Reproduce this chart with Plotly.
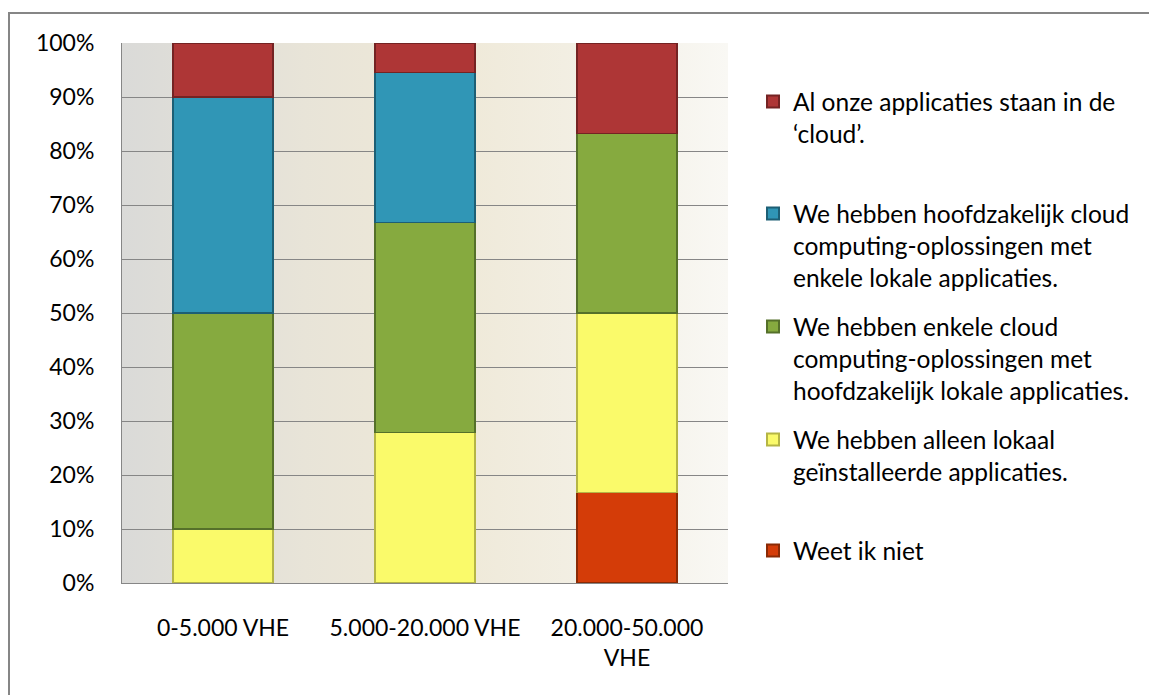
import base64
import plotly.graph_objects as go

# ---- data ----
categories = ["0-5.000 VHE", "5.000-20.000 VHE", "20.000-50.000<br>VHE"]
weet_ik_niet = [0, 0, 16.7]
alleen_lokaal = [10, 27.8, 33.3]
enkele_cloud = [40, 38.9, 33.3]
hoofdzakelijk_cloud = [40, 27.8, 0]
alles_cloud = [10, 5.5, 16.7]

series_names = [
    "Weet ik niet",
    "We hebben alleen lokaal<br>geïnstalleerde applicaties.",
    "We hebben enkele cloud<br>computing-oplossingen met<br>hoofdzakelijk lokale applicaties.",
    "We hebben hoofdzakelijk cloud<br>computing-oplossingen met<br>enkele lokale applicaties.",
    "Al onze applicaties staan in de<br>‘cloud’.",
]
series_values = [weet_ik_niet, alleen_lokaal, enkele_cloud, hoofdzakelijk_cloud, alles_cloud]
series_colors = ["#d43c08", "#fafa6a", "#86aa3f", "#3096b6", "#ae3636"]
series_lines = ["#8a2a05", "#b5b545", "#55702a", "#1d5f75", "#742323"]

FONT = "Lato"
W, H = 1157, 695
OFF = 8                          # browser body margin
L, R, T, B = 122, 728, 43, 583   # plot area in page pixels

fig = go.Figure()
legend_ids = ["legend5", "legend4", "legend3", "legend2", "legend"]
for name, vals, col, lc, lg in zip(series_names, series_values, series_colors, series_lines, legend_ids):
    fig.add_trace(go.Bar(
        x=categories, y=vals, name=name,
        marker=dict(color=col, line=dict(color=lc, width=1.2)),
        legend=lg,
    ))

# gradient background image for plot area
svg = """<svg xmlns='http://www.w3.org/2000/svg' width='600' height='540' preserveAspectRatio='none'>
<defs><linearGradient id='g' x1='0' y1='0' x2='1' y2='0'>
<stop offset='0' stop-color='#dadad8'/>
<stop offset='0.3' stop-color='#e8e4d8'/>
<stop offset='0.55' stop-color='#efe9d8'/>
<stop offset='0.8' stop-color='#f3f0e6'/>
<stop offset='1' stop-color='#f9f8f4'/>
</linearGradient></defs>
<rect width='600' height='540' fill='url(#g)'/></svg>"""
uri = "data:image/svg+xml;base64," + base64.b64encode(svg.encode()).decode()

def px_x(p):
    return (p - L) / (R - L)

def px_y(p):
    return (B - p) / (B - T)

legend_tops = [100, 212, 325, 438, 549]
legend_layout = {}
for lg, ytop in zip(["legend", "legend2", "legend3", "legend4", "legend5"], legend_tops):
    legend_layout[lg] = dict(
        x=px_x(753), y=px_y(ytop - 21), xanchor="left", yanchor="top",
        valign="top", bgcolor="rgba(0,0,0,0)",
        font=dict(family=FONT, size=24.5, color="#000000"),
        itemsizing="constant",
    )

fig.update_layout(
    width=W - OFF, height=H - OFF,
    margin=dict(l=L - OFF, r=W - R, t=T - OFF, b=H - B, pad=0),
    barmode="stack", bargap=0.505,
    paper_bgcolor="white", plot_bgcolor="rgba(0,0,0,0)",
    font=dict(family=FONT, size=23, color="#000000"),
    showlegend=True,
    images=[dict(source=uri, xref="paper", yref="paper", x=0, y=1,
                 sizex=1, sizey=1, sizing="stretch", layer="below",
                 xanchor="left", yanchor="top")],
    shapes=[dict(type="rect", xref="paper", yref="paper",
                 x0=px_x(9), x1=px_x(1175), y0=px_y(710), y1=px_y(13),
                 line=dict(color="#868686", width=2), fillcolor="rgba(0,0,0,0)",
                 layer="above")],
    **legend_layout,
)
fig.update_yaxes(range=[0, 100], dtick=10, ticksuffix="%", showgrid=True,
                 gridcolor="#868686", gridwidth=1, showline=True, linecolor="#868686",
                 linewidth=1, ticks="", ticklabelstandoff=22, zeroline=False,
                 tickfont=dict(family=FONT, size=23))
fig.update_xaxes(showline=True, linecolor="#868686", linewidth=1, ticks="",
                 ticklabelstandoff=24, tickfont=dict(family=FONT, size=23))

fig.write_html("out.html")
